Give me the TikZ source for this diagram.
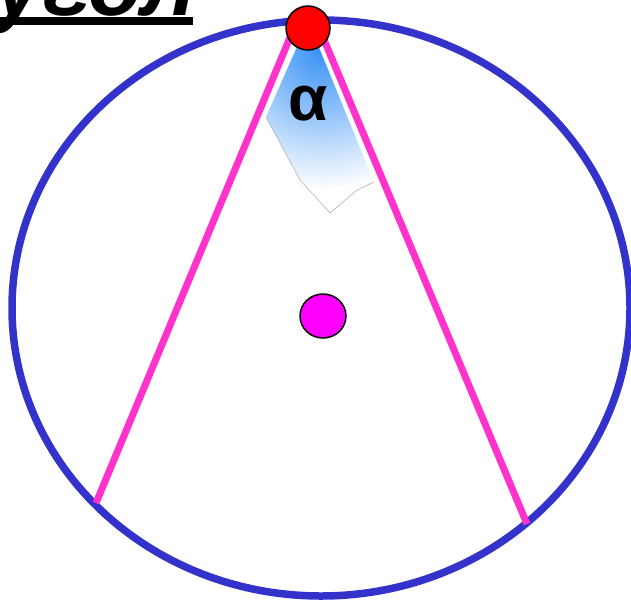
\documentclass[tikz,border=0pt]{standalone}
\usepackage{fontspec}
\setmainfont{Liberation Sans}
\usetikzlibrary{shapes.geometric}
\begin{document}
\begin{tikzpicture}[x=1pt,y=-1pt,
  rim/.style={draw={rgb,255:red,51;green,51;blue,204}, line width=7.5pt},
  chord/.style={draw={rgb,255:red,255;green,51;blue,204}, line width=7pt},
  dotred/.style={circle, fill=red, draw=black, line width=1.5pt, minimum size=44pt, inner sep=0pt},
  dotmag/.style={ellipse, fill={rgb,255:red,255;green,0;blue,255}, draw=black, line width=1.5pt, minimum width=46pt, minimum height=44pt, inner sep=0pt},
  lbl/.style={font=\bfseries\fontsize{64}{64}\selectfont, inner sep=0pt}]
\useasboundingbox (0,0) rectangle (631,600);
% title (cropped)
\node[anchor=base west, inner sep=0pt, font=\bfseries\itshape\fontsize{88}{88}\selectfont] (title) at (-6,15) {угол};
\fill (0,17) rectangle (193,25);
% circle
\draw[rim] (321,308) ellipse [x radius=309, y radius=288];
% angle shading
\begin{scope}
\clip (300,40) -- (266,117) -- (300,180) -- (330,213) -- (357,190) -- (374,182) -- (318,45) -- cycle;
\fill[white] (250,30) rectangle (390,220);
\shade[inner color={rgb,255:red,55;green,145;blue,245}, outer color=white] (322,50) circle (140);
\end{scope}
\draw[gray!60, line width=0.6pt] (266,117) -- (300,180) -- (330,213) -- (357,190) -- (374,182);
% chords
\coordinate (L0) at (291,35);
\coordinate (R0) at (322,35);
\coordinate (L1) at (96,503);
\coordinate (R1) at (527,524);
\draw[chord] (L0) -- (L1);
\draw[chord] (R0) -- (R1);
\node[dotred] (apex) at (308,28) {};
\node[lbl] (alpha) at (308,104) {α};
\node[dotmag] (center) at (323,316) {};
\end{tikzpicture}
\end{document}
